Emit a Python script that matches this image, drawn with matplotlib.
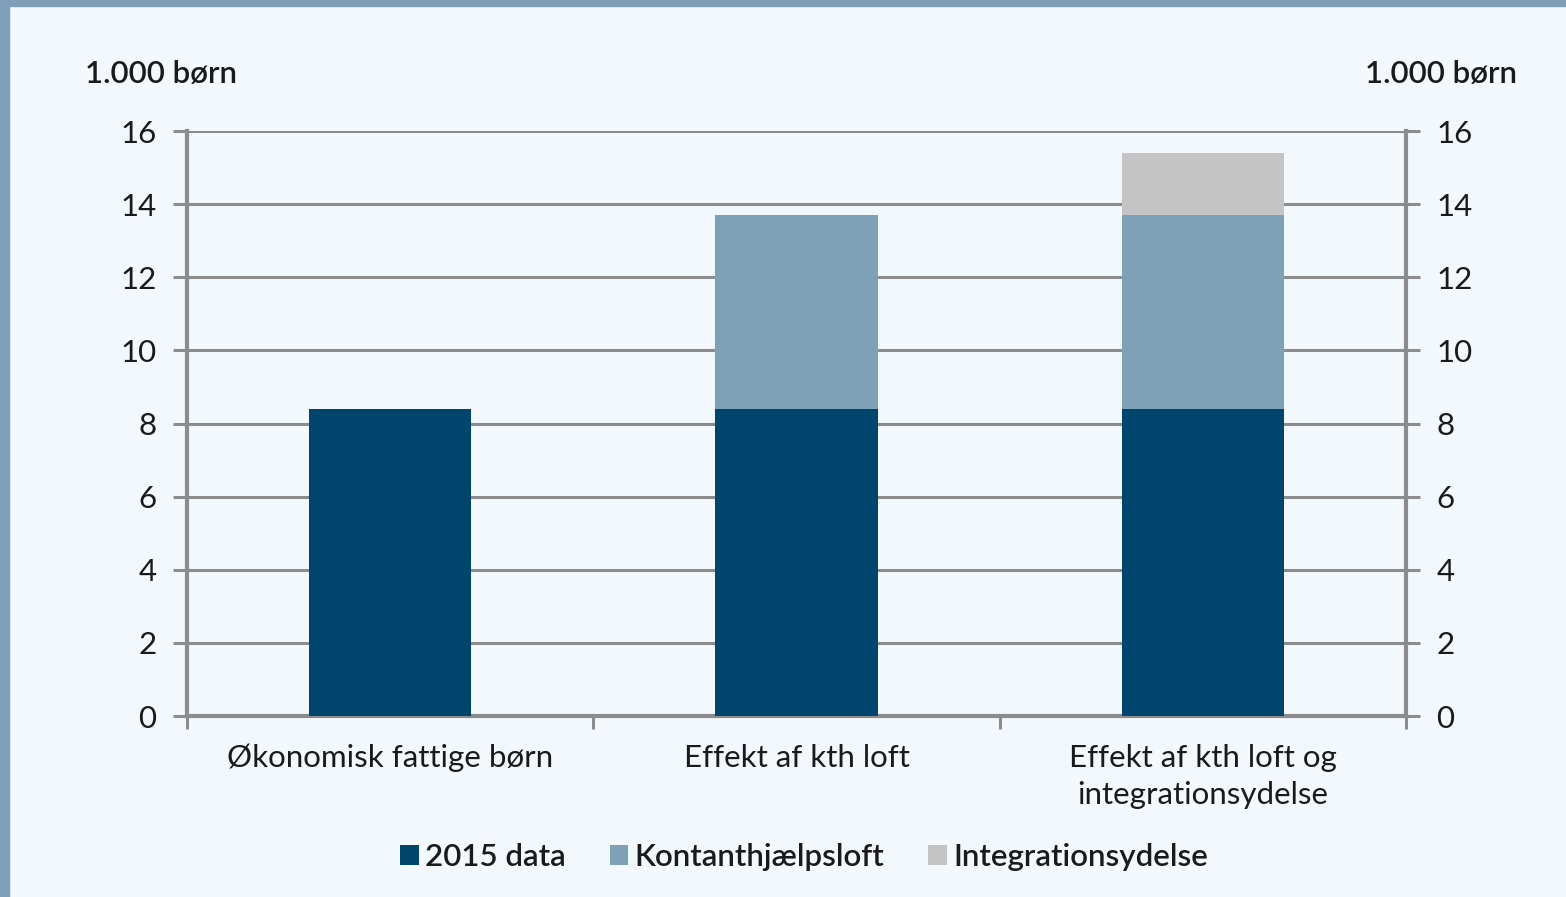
import numpy as np
import matplotlib.pyplot as plt
from matplotlib.patches import Rectangle

# data
categories = ['Økonomisk fattige børn', 'Effekt af kth loft', 'Effekt af kth loft og\nintegrationsydelse']
data_2015 = [8.4, 8.4, 8.4]
kontanthjaelp = [0.0, 5.3, 5.3]
integration = [0.0, 0.0, 1.7]
series_names = ['2015 data', 'Kontanthjælpsloft', 'Integrationsydelse']
y_ticks = [0, 2, 4, 6, 8, 10, 12, 14, 16]

colors = ['#00456b', '#7fa1b7', '#c4c4c4']
bg = '#f3f8fd'
grid_c = '#8c8c8c'

plt.rcParams['font.family'] = ['Lato', 'DejaVu Sans']

fig = plt.figure(figsize=(15.66, 8.97), dpi=100, facecolor=bg)

# frame of the surrounding box
fig.patches.append(Rectangle((0, 0), 0.0055, 1, transform=fig.transFigure, color='#7f9fb8', zorder=0))
fig.patches.append(Rectangle((0, 0.993), 1, 0.007, transform=fig.transFigure, color='#7f9fb8', zorder=0))

ax = fig.add_axes([187 / 1566, 1 - 716 / 897, (1406 - 187) / 1566, (716 - 131) / 897])
ax.set_facecolor(bg)

x = np.arange(len(categories))
w = 0.4
bottom2 = np.array(data_2015)
bottom3 = bottom2 + np.array(kontanthjaelp)
ax.bar(x, data_2015, w, color=colors[0], zorder=3, label=series_names[0])
ax.bar(x, kontanthjaelp, w, bottom=bottom2, color=colors[1], zorder=3, label=series_names[1])
ax.bar(x, integration, w, bottom=bottom3, color=colors[2], zorder=3, label=series_names[2])

ax.set_xlim(-0.5, len(categories) - 0.5)
ax.set_ylim(0, 16)
ax.set_yticks(y_ticks)
ax.yaxis.grid(True, color=grid_c, linewidth=2.2, zorder=1)
ax.set_axisbelow(True)

for s in ['left', 'right', 'bottom']:
    ax.spines[s].set_color(grid_c)
    ax.spines[s].set_linewidth(3)
ax.spines['top'].set_visible(False)

ax.tick_params(axis='y', which='both', left=True, right=True, labelleft=True, labelright=True,
               length=10, width=2.2, color=grid_c, labelsize=22.5, labelcolor='#1a1a1a', pad=12)
ax.set_xticks(np.arange(-0.5, len(categories), 1.0))
ax.set_xticklabels([])
ax.tick_params(axis='x', which='major', length=9, width=2.2, color=grid_c)
ax.set_xticks(x, minor=True)
ax.set_xticklabels(categories, minor=True, fontsize=22.5, color='#1a1a1a', linespacing=1.4)
ax.tick_params(axis='x', which='minor', length=0, pad=20)

fig.text(85 / 1566, 1 - 74 / 897, '1.000 børn', fontsize=22.5, fontweight='semibold', color='#1a1a1a', va='center', ha='left')
fig.text(1517 / 1566, 1 - 74 / 897, '1.000 børn', fontsize=22.5, fontweight='semibold', color='#1a1a1a', va='center', ha='right')

leg = fig.legend(loc='center', bbox_to_anchor=(804 / 1566, 1 - 857 / 897), ncol=3, frameon=False,
                 fontsize=22.5, handlelength=0.6, handleheight=0.6, handletextpad=0.2, columnspacing=1.4)
for t in leg.get_texts():
    t.set_color('#1a1a1a')
    t.set_fontweight('semibold')

fig.savefig('out.png', dpi=100, facecolor=bg)
